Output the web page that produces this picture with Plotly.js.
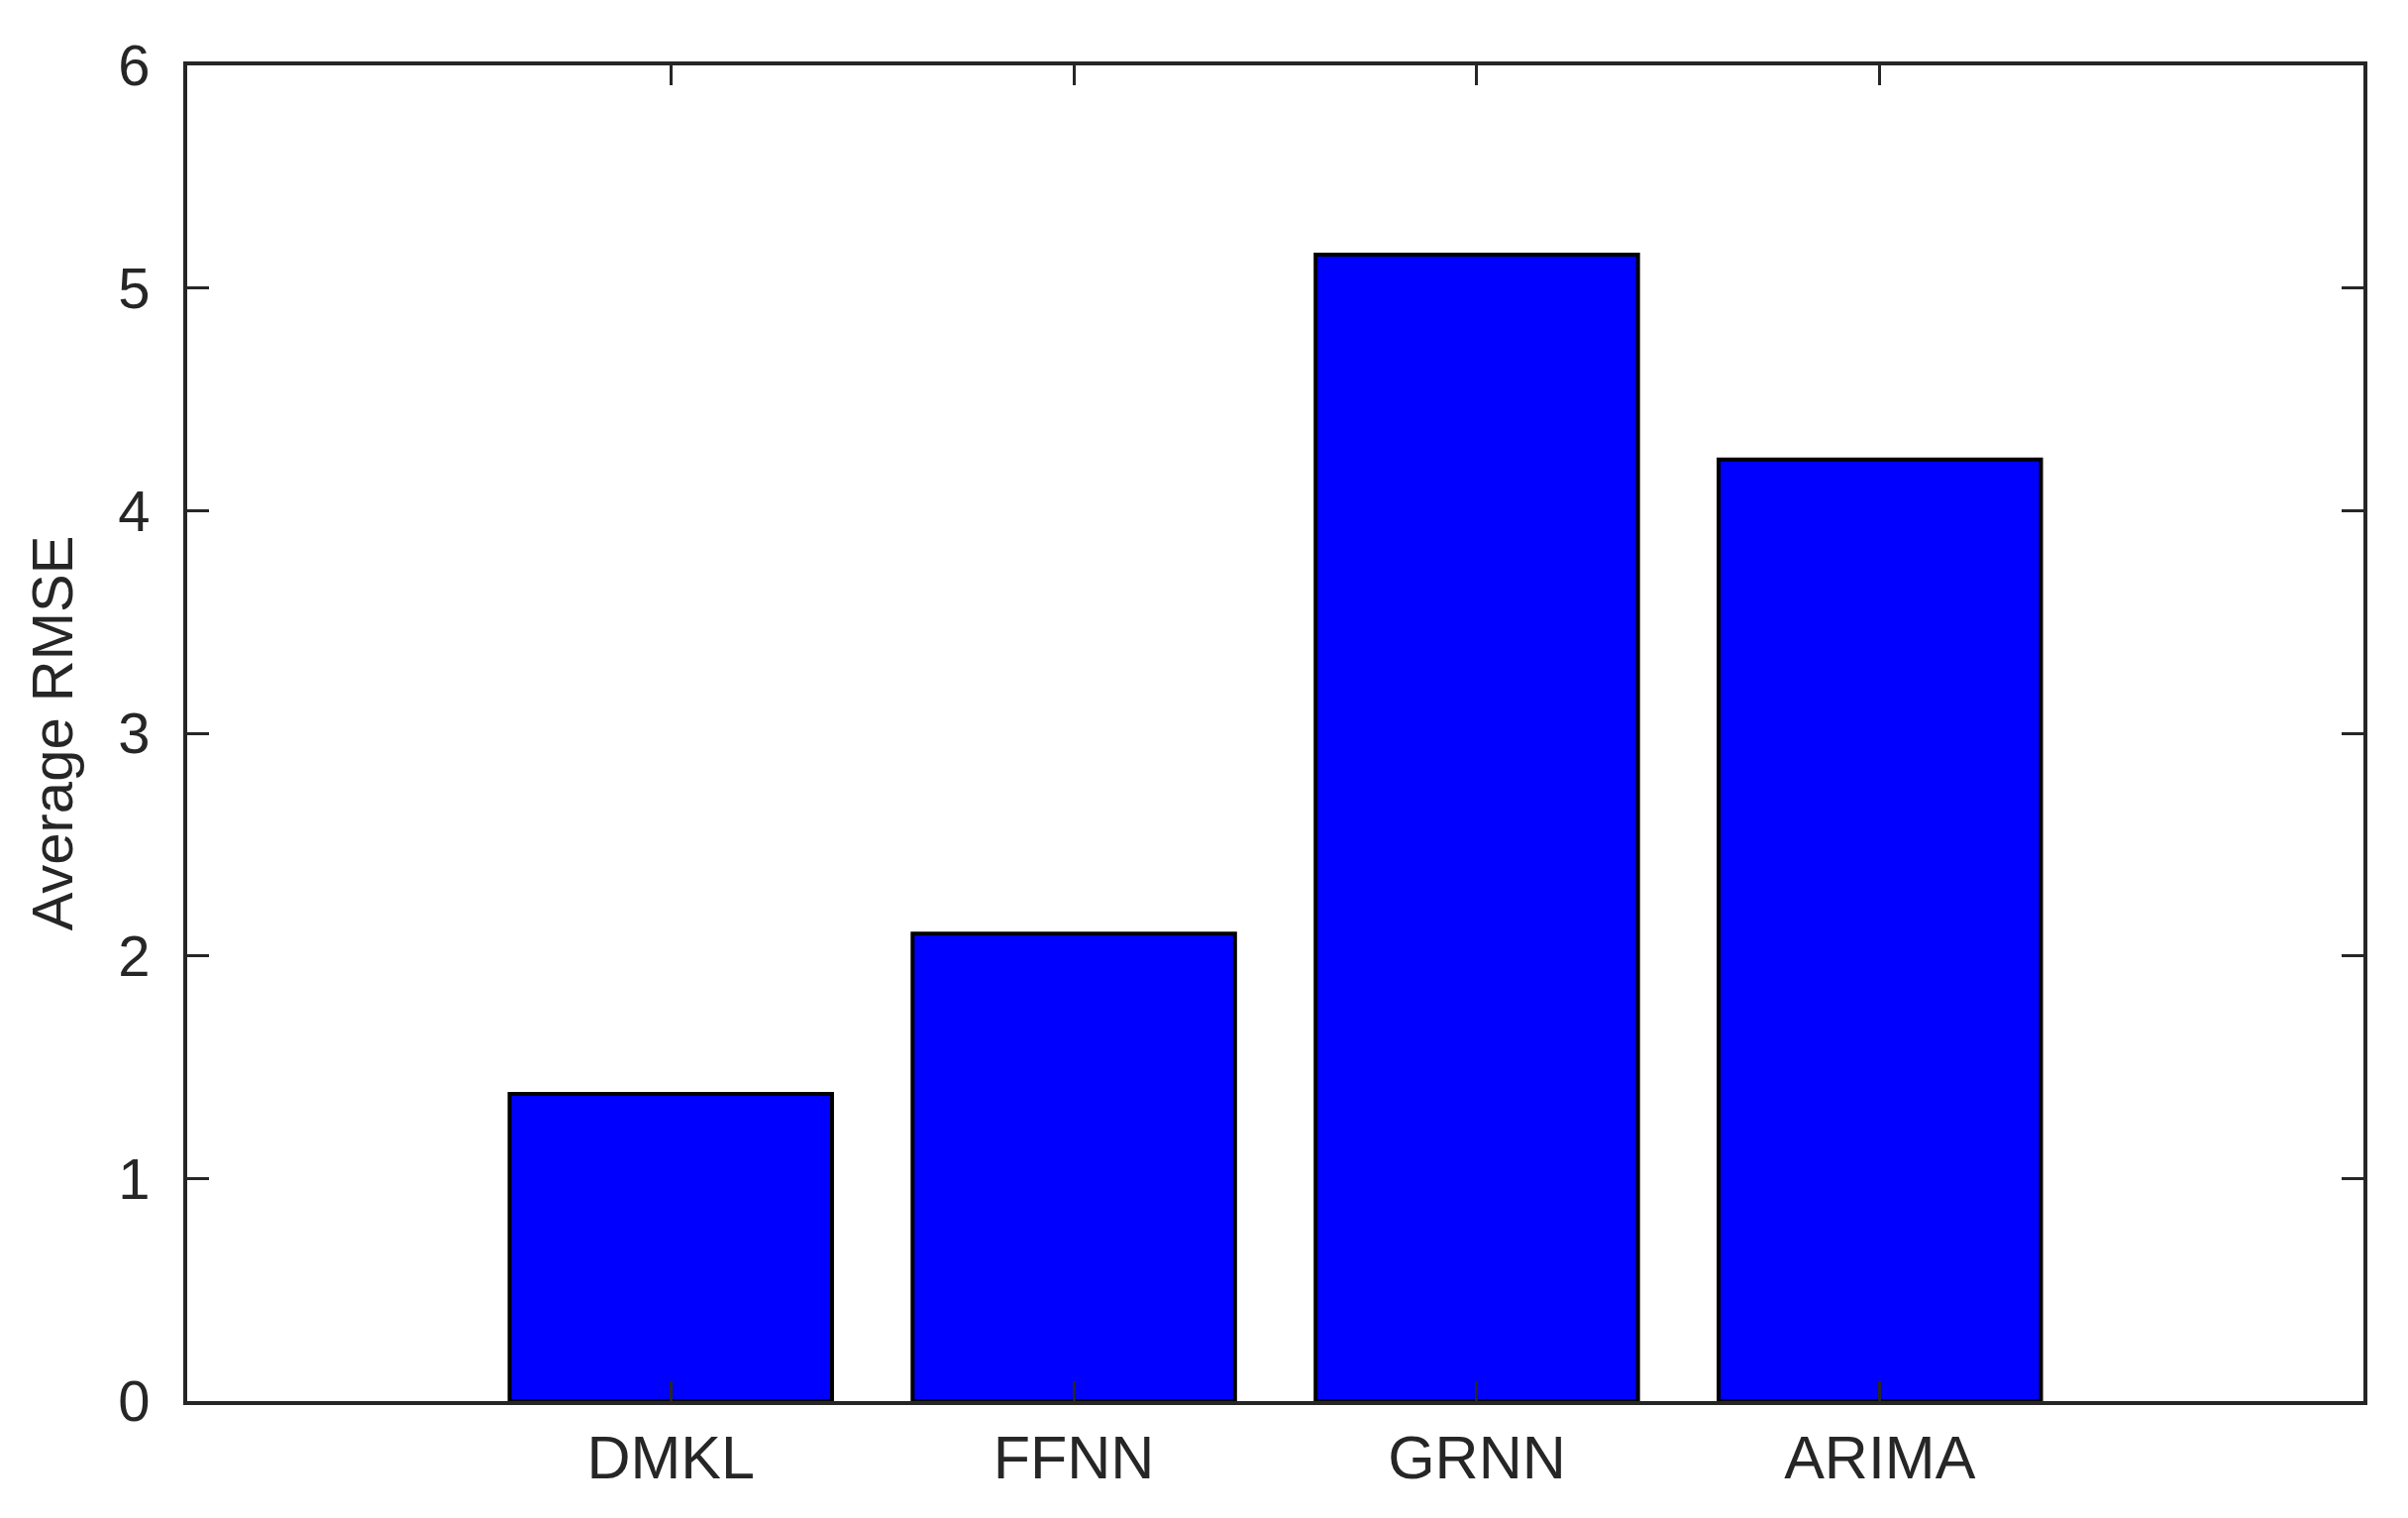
<!DOCTYPE html>
<html>
<head>
<meta charset="utf-8">
<script src="https://cdn.plot.ly/plotly-3.0.1.min.js"></script>
<style>
  html, body { margin: 0; padding: 0; background: #ffffff; }
  #chart { width: 2431px; height: 1532px; }
</style>
</head>
<body>
<div id="chart"></div>
<script>
// Data
const methods = ["DMKL", "FFNN", "GRNN", "ARIMA"];
const avgRMSE = [1.38, 2.10, 5.15, 4.23];
const yTickValues = [0, 1, 2, 3, 4, 5, 6];
const yTitle = "Average RMSE";

const axisColor = "#262626";

const trace = {
  type: "bar",
  x: methods,
  y: avgRMSE,
  width: 0.8,
  marker: {
    color: "#0000ff",
    line: { color: "#000000", width: 4 }
  },
  hoverinfo: "x+y"
};

const layout = {
  width: 2431,
  height: 1532,
  paper_bgcolor: "#ffffff",
  plot_bgcolor: "#ffffff",
  showlegend: false,
  margin: { l: 189, r: 45, t: 66, b: 118, pad: 0 },
  font: { family: "Liberation Sans, Arial, Helvetica, sans-serif", color: axisColor },
  xaxis: {
    type: "category",
    range: [-1.2, 4.2],
    showline: true,
    linecolor: axisColor,
    linewidth: 4,
    mirror: "ticks",
    ticks: "inside",
    ticklen: 20,
    tickwidth: 3,
    tickcolor: axisColor,
    showgrid: false,
    zeroline: false,
    ticklabelstandoff: 1,
    tickfont: { family: "Liberation Sans, Arial, sans-serif", size: 61, color: axisColor }
  },
  yaxis: {
    range: [0, 6],
    tickvals: yTickValues,
    ticktext: yTickValues.map(String),
    showline: true,
    linecolor: axisColor,
    linewidth: 4,
    mirror: "ticks",
    ticks: "inside",
    ticklen: 22,
    tickwidth: 3,
    tickcolor: axisColor,
    showgrid: false,
    zeroline: false,
    ticklabelstandoff: 22,
    tickfont: { family: "Liberation Sans, Arial, sans-serif", size: 58, color: axisColor },
    title: {
      text: yTitle,
      standoff: 28,
      font: { family: "Liberation Sans, Arial, sans-serif", size: 58, color: axisColor }
    }
  }
};

Plotly.newPlot("chart", [trace], layout, { displayModeBar: false, staticPlot: true });
</script>
</body>
</html>
